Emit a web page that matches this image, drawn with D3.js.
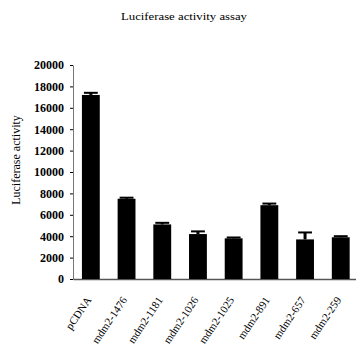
<!DOCTYPE html>
<html><head><meta charset="utf-8">
<script src="https://cdn.jsdelivr.net/npm/d3@7/dist/d3.min.js"></script>
<style>body{margin:0;background:#fff}svg{display:block}</style>
</head><body>
<script>
const categories = ["pCDNA","mdm2-1476","mdm2-1181","mdm2-1026","mdm2-1025","mdm2-891","mdm2-657","mdm2-259"];
const values = [17200, 7500, 5100, 4200, 3800, 6900, 3700, 3900];
const errors = [200, 100, 150, 250, 80, 150, 650, 100];
const yTicks = [0,2000,4000,6000,8000,10000,12000,14000,16000,18000,20000];

const W=356,H=354;
const svg=d3.select("body").append("svg").attr("width",W).attr("height",H);
const font="'Liberation Serif','Times New Roman',serif";
const x0=73,x1=358.6,yb=279,yt=65;
const x=d3.scaleBand().domain(categories).range([x0,x1]).paddingInner(0.5).paddingOuter(0.25);
const y=d3.scaleLinear().domain([0,20000]).range([yb,yt]);

svg.append("text").attr("x",184).attr("y",20).attr("text-anchor","middle")
  .attr("font-family",font).attr("font-size",11).attr("textLength",126).attr("lengthAdjust","spacingAndGlyphs")
  .text("Luciferase activity assay");

const ya=svg.append("g").attr("transform",`translate(${x0},0)`)
  .call(d3.axisLeft(y).tickValues(yTicks).tickSize(3).tickSizeOuter(0).tickFormat(d3.format("d")));
ya.select(".domain").attr("stroke","#777");
ya.selectAll("text").attr("font-family",font).attr("font-size",12).attr("fill","#000").attr("font-weight","bold").attr("dx",-3);

const xa=svg.append("g").attr("transform",`translate(0,${yb})`)
  .call(d3.axisBottom(x).tickSize(0).tickSizeOuter(0));
xa.select(".domain").attr("stroke","#555").attr("stroke-width",1.5);
xa.selectAll("text").attr("font-family",font).attr("font-size",11).attr("fill","#000")
  .attr("text-anchor","end").attr("y",0).attr("dy",0)
  .attr("transform","translate(1,21) rotate(-56)");

svg.selectAll(".bar").data(values).enter().append("rect")
  .attr("x",(d,i)=>x(categories[i])).attr("width",x.bandwidth())
  .attr("y",d=>y(d)).attr("height",d=>yb-y(d)).attr("fill","#000");

const eg=svg.selectAll(".err").data(values).enter().append("g");
eg.append("line").attr("x1",(d,i)=>x(categories[i])+x.bandwidth()/2).attr("x2",(d,i)=>x(categories[i])+x.bandwidth()/2)
  .attr("y1",d=>y(d)).attr("y2",(d,i)=>y(d+errors[i])).attr("stroke","#000").attr("stroke-width",3);
eg.append("line").attr("x1",(d,i)=>x(categories[i])+2).attr("x2",(d,i)=>x(categories[i])+x.bandwidth()-2)
  .attr("y1",(d,i)=>y(d+errors[i])).attr("y2",(d,i)=>y(d+errors[i])).attr("stroke","#000").attr("stroke-width",2);

svg.append("text").attr("transform","translate(20,160) rotate(-90)").attr("text-anchor","middle")
  .attr("font-family",font).attr("font-size",12).text("Luciferase activity");
</script>
</body></html>
